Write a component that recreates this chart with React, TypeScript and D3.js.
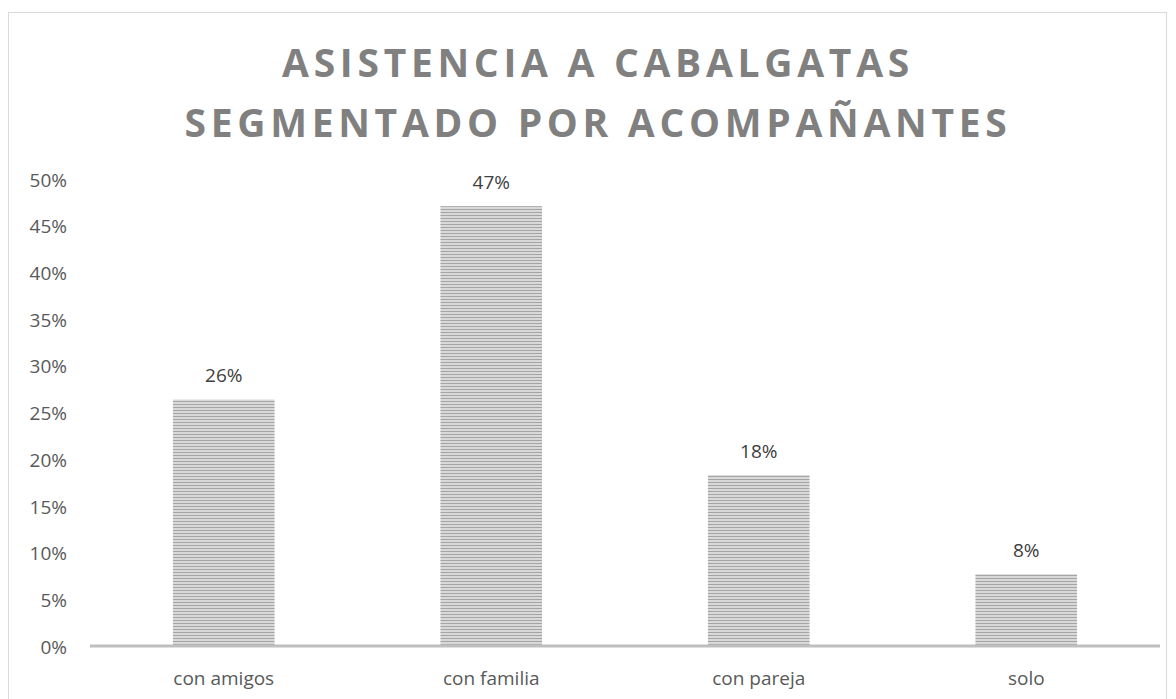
import React from "react";
import * as d3 from "d3";

const categories = ["con amigos", "con familia", "con pareja", "solo"];
const values = [0.265, 0.472, 0.184, 0.078];
const valueLabels = ["26%", "47%", "18%", "8%"];
const yTicks = [0, 0.05, 0.1, 0.15, 0.2, 0.25, 0.3, 0.35, 0.4, 0.45, 0.5];
const titleLines = ["ASISTENCIA A CABALGATAS", "SEGMENTADO POR ACOMPAÑANTES"];

const W = 1176;
const H = 699;
const plot = { left: 90, right: 1160, top: 180, bottom: 647 };

export default function App() {
  const x = d3.scaleBand<string>().domain(categories).range([plot.left, plot.right]).paddingInner(0.62).paddingOuter(0.31);
  const y = d3.scaleLinear().domain([0, 0.5]).range([plot.bottom, plot.top]);
  const fmt = d3.format(".0%");
  const font = "'Open Sans', 'Liberation Sans', sans-serif";
  return (
    <svg width={W} height={H} style={{ position: "absolute", left: 0, top: 0 }}>
      <defs>
        <pattern id="stripes" width="6" height="3" patternUnits="userSpaceOnUse">
          <rect x="0" y="0" width="6" height="3" fill="#d9d9d9" />
          <rect x="0" y="2" width="6" height="1" fill="#a5a5a5" />
        </pattern>
      </defs>
      <rect x={0} y={0} width={W} height={H} fill="#fff" />
      <rect x={8.5} y={12.5} width={1158} height={700} fill="#fff" stroke="#d9d9d9" strokeWidth={1} />
      {titleLines.map((t, i) => (
        <text key={i} x={598} y={77 + i * 60} textAnchor="middle" fontFamily={font} fontWeight={700} fontSize={39} letterSpacing={4.7} fill="#808080">{t}</text>
      ))}
      {yTicks.map((t) => (
        <text key={t} x={67} y={y(t)} dy="0.35em" textAnchor="end" fontFamily={font} fontSize={19} fill="#595959">{fmt(t)}</text>
      ))}
      {categories.map((c, i) => (
        <g key={c}>
          <rect x={x(c)} y={y(values[i])} width={x.bandwidth()} height={y(0) - y(values[i])} fill="url(#stripes)" />
          <text x={(x(c) as number) + x.bandwidth() / 2} y={y(values[i]) - 17} textAnchor="middle" fontFamily={font} fontSize={19} fill="#404040">{valueLabels[i]}</text>
          <text x={(x(c) as number) + x.bandwidth() / 2} y={plot.bottom + 31} dy="0.35em" textAnchor="middle" fontFamily={font} fontSize={19} fill="#595959">{c}</text>
        </g>
      ))}
      <line x1={plot.left} x2={plot.right} y1={plot.bottom - 1} y2={plot.bottom - 1} stroke="#bfbfbf" strokeWidth={3} />
    </svg>
  );
}
